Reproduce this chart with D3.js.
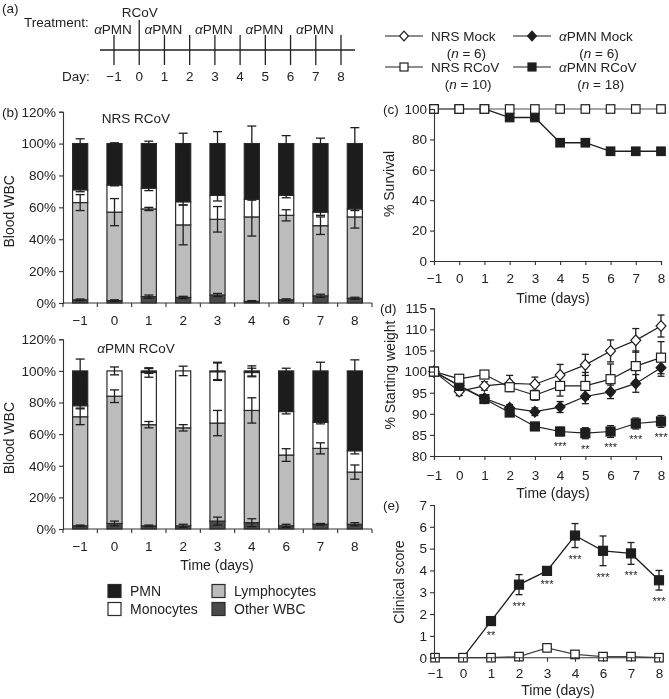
<!DOCTYPE html>
<html><head><meta charset="utf-8">
<script src="https://cdn.jsdelivr.net/npm/d3@7"></script>
<style>
body{margin:0;background:#fff;}
#chart{filter:grayscale(1);}
svg text{font-family:"Liberation Sans",Arial,Helvetica,sans-serif;fill:#222;}
svg text.sig{fill:#222;}
</style></head><body>
<svg id="chart" width="669" height="699"></svg>
<script>
// ---------------- DATA ----------------
const timelineDays = [-1,0,1,2,3,4,5,6,7,8];
const pmnTreatDays = [-1,1,3,5,7];
const rcovDay = 0;

const barDays = ["\u22121","0","1","2","3","4","6","7","8"];
const cellKeys = ["Other WBC","Lymphocytes","Monocytes","PMN"];
const yPctTicks = [0,20,40,60,80,100,120];

// NRS RCoV (% of blood WBC, segment sizes)
const nrsOther = [2,1.5,4,3.5,5,1,2,4.5,3];
const nrsLymph = [61,55.5,55,45.5,47.5,53,53,44,51];
const nrsMono  = [8,17,13,14.5,15,11,12.5,8.5,5];
const nrsPMN   = [29,26,28,36.5,32.5,35,32.5,43,41];
const nrsOtherErr = [0.5,0.5,1,0.7,1,0.5,0.6,1,0.6];
const nrsLymphErr = [5,8.5,1,12.5,8,12,3.5,5.5,7];
const nrsMonoErr  = [1.2,0.5,1.5,2,3.5,0.5,1.5,2,1];
const nrsPMNErr   = [3,0.5,1.5,6.5,7.5,11,5,3.4,10];

// aPMN RCoV
const pmnOther = [2,3.5,2,2,5,4,2,3,3];
const pmnLymph = [69,80.5,64,62,62,71,44.8,48,33];
const pmnMono  = [7,16,33,36,32.5,24,27.5,16.5,13.5];
const pmnPMN   = [22,0,1,0,0.5,1,25.7,32.5,50.5];
const pmnOtherErr = [0.5,1.5,0.5,1,2.5,2.5,1,0.5,1];
const pmnLymphErr = [5,4,2,2,8,8,4,3.5,4.5];
const pmnMonoErr  = [1.5,2.5,3,3,5.5,2.7,1.5,1,2];
const pmnPMNErr   = [7.5,0,1.5,0,5.5,3.2,1.7,5.5,7];

// Survival (%)
const dayNums = [-1,0,1,2,3,4,5,6,7,8];
const survNRS = [100,100,100,100,100,100,100,100,100,100];
const survPMN = [100,100,100,94.4,94.4,77.8,77.8,72.2,72.2,72.2];
const survTicks = [0,20,40,60,80,100];

// Weight (% starting)
const wNrsMock = [100,95.3,96.6,97.2,97.0,99.2,101.6,104.9,107.4,110.8];
const wNrsMockErr = [0,1.0,1.0,1.9,1.7,2.5,2.5,2.6,2.8,2.6];
const wNrsRcov = [100,98.3,99.3,96.3,94.4,96.6,96.6,98.2,101.3,103.3];
const wNrsRcovErr = [0,0.5,0.5,1,1.2,2.4,3.2,3.6,3.6,3.8];
const wPmnMock = [100,96.7,93.7,91.4,90.5,91.6,94.1,95.2,97.2,100.9];
const wPmnMockErr = [0,0.8,0.8,0.8,0.9,1.3,1.7,1.6,2.1,2.0];
const wPmnRcov = [100,96.6,93.5,90.3,87.0,85.8,85.4,85.8,87.7,88.2];
const wPmnRcovErr = [0,0.6,0.8,0.8,0.8,1.0,1.3,1.4,1.3,1.4];
const wSig = ["","","","","","***","**","***","***","***"];
const wTicks = [80,85,90,95,100,105,110,115];

// Clinical score
const cPmnRcov = [0,0,1.68,3.35,3.98,5.6,4.9,4.78,3.55];
const cPmnRcovErr = [0,0,0.12,0.46,0.1,0.55,0.68,0.5,0.45];
const cNrsRcov = [0,0,0,0.05,0.45,0.15,0.05,0.05,0];
const cNrsRcovErr = [0,0,0,0,0.08,0,0,0,0];
const cSig = ["","","**","***","***","***","***","***","***"];
const cTicks = [0,1,2,3,4,5,6,7];

// ---------------- DRAW ----------------
const svg = d3.select("#chart");
const INK = "#1e1e1e";
const colors = {"Other WBC":"#4a4a4a","Lymphocytes":"#bcbcbc","Monocytes":"#ffffff","PMN":"#1c1c1c"};

function rich(g, x, y, parts, anchor, size) {
  const t = g.append("text").attr("x",x).attr("y",y)
    .attr("text-anchor",anchor||"start").attr("dominant-baseline","central")
    .style("font-size",(size||13.5)+"px");
  parts.forEach(p=>{const s=t.append("tspan").text(p[0]); if(p[1]) s.style("font-style","italic");});
  return t;
}
function styleAxis(g, fs) {
  g.select(".domain").attr("stroke","#333").attr("stroke-width",1.1);
  g.selectAll(".tick line").attr("stroke","#333").attr("stroke-width",1.1);
  g.selectAll(".tick text").style("font-size",(fs||13.5)+"px").attr("fill","#222");
}
function marker(g, type, x, y, s) {
  const filled = type.endsWith("Filled");
  if (type.startsWith("square")) {
    g.append("rect").attr("x",x-s/2).attr("y",y-s/2).attr("width",s).attr("height",s)
      .attr("fill",filled?INK:"#fff").attr("stroke",INK).attr("stroke-width",1.2);
  } else {
    const h = s*0.6, w = s*0.55;
    g.append("path").attr("d",`M${x},${y-h}L${x+w},${y}L${x},${y+h}L${x-w},${y}Z`)
      .attr("fill",filled?INK:"#fff").attr("stroke",INK).attr("stroke-width",1.2);
  }
}
function errBar(g, x, y1, y2, cap) {
  g.append("line").attr("x1",x).attr("x2",x).attr("y1",y1).attr("y2",y2).attr("stroke",INK).attr("stroke-width",1.3);
  [y1,y2].forEach(yy=>g.append("line").attr("x1",x-cap/2).attr("x2",x+cap/2).attr("y1",yy).attr("y2",yy).attr("stroke",INK).attr("stroke-width",1.3));
}

// ----- Panel (a) timeline -----
const ga = svg.append("g");
ga.append("text").attr("x",2).attr("y",8).attr("dominant-baseline","central").style("font-size","13.5px").text("(a)");
ga.append("text").attr("x",24).attr("y",22).attr("dominant-baseline","central").style("font-size","13.5px").text("Treatment:");
ga.append("text").attr("x",62).attr("y",76).attr("dominant-baseline","central").style("font-size","13.5px").text("Day:");
const xt = d3.scaleLinear().domain([-1,8]).range([114,341]);
ga.append("line").attr("x1",100).attr("x2",355).attr("y1",50).attr("y2",50).attr("stroke","#222").attr("stroke-width",1.3);
timelineDays.forEach(d=>{
  ga.append("line").attr("x1",xt(d)).attr("x2",xt(d)).attr("y1",d===rcovDay?20:35).attr("y2",65).attr("stroke","#222").attr("stroke-width",1.3);
  ga.append("text").attr("x",xt(d)).attr("y",76).attr("text-anchor","middle").attr("dominant-baseline","central").style("font-size","13.5px").text(d3.format("d")(d));
});
ga.append("text").attr("x",xt(rcovDay)+0.5).attr("y",12).attr("text-anchor","middle").attr("dominant-baseline","central").style("font-size","13.5px").text("RCoV");
pmnTreatDays.forEach(d=>rich(ga, xt(d)-1, 28.5, [["\u03b1",true],["PMN",false]], "middle"));

// ----- Top-right legend -----
const gl = svg.append("g");
const legItems = [
  {parts:[["NRS Mock",false]], n:"6", type:"diamondOpen", x:385, y:36},
  {parts:[["NRS RCoV",false]], n:"10", type:"squareOpen", x:385, y:67},
  {parts:[["\u03b1",true],["PMN Mock",false]], n:"6", type:"diamondFilled", x:513, y:36},
  {parts:[["\u03b1",true],["PMN RCoV",false]], n:"18", type:"squareFilled", x:513, y:67}
];
legItems.forEach(it=>{
  gl.append("line").attr("x1",it.x).attr("x2",it.x+38).attr("y1",it.y).attr("y2",it.y).attr("stroke",INK).attr("stroke-width",1.2);
  marker(gl, it.type, it.x+19, it.y, 8);
  const t = rich(gl, it.x+46, it.y, it.parts, "start", 13.5);
  const bb = t.node().getBBox();
  rich(gl, bb.x+bb.width/2+3, it.y+16.5, [["(",false],["n",true],[" = "+it.n+")",false]], "middle", 13.5);
});

// ----- Panel (b) stacked bars -----
const barX = d3.scaleBand().domain(barDays).range([63,372]).paddingInner(0.56).paddingOuter(0.28);
function barPanel(segs, errs, y0, y120, title, titleY) {
  const g = svg.append("g");
  const y = d3.scaleLinear().domain([0,120]).range([y0,y120]);
  const rows = barDays.map((d,i)=>{const r={day:d}; cellKeys.forEach((k,j)=>r[k]=segs[j][i]); return r;});
  const stacked = d3.stack().keys(cellKeys)(rows);
  stacked.forEach(layer=>{
    g.selectAll(null).data(layer).join("rect")
      .attr("x",d=>barX(d.data.day)).attr("width",barX.bandwidth())
      .attr("y",d=>y(d[1])).attr("height",d=>Math.max(0,y(d[0])-y(d[1])))
      .attr("fill",colors[layer.key]).attr("stroke","#2a2a2a").attr("stroke-width",1.2);
  });
  stacked.forEach((layer,j)=>{
    layer.forEach((d,i)=>{
      const e = errs[j][i];
      if (e>0 && d[1]-d[0]>0) errBar(g, barX(d.data.day)+barX.bandwidth()/2, y(d[1]+e), y(d[1]-e), 9);
    });
  });
  const ya = g.append("g").attr("transform","translate(63,0)")
    .call(d3.axisLeft(y).tickValues(yPctTicks).tickFormat(d=>d+"%").tickSize(4).tickPadding(3));
  styleAxis(ya);
  g.append("line").attr("x1",63).attr("x2",372).attr("y1",y0).attr("y2",y0).attr("stroke","#333").attr("stroke-width",1.1);
  d3.range(barDays.length+1).forEach(i=>{
    const xx = 63+i*barX.step();
    g.append("line").attr("x1",xx).attr("x2",xx).attr("y1",y0).attr("y2",y0+4).attr("stroke","#333").attr("stroke-width",1.1);
  });
  barDays.forEach(d=>g.append("text").attr("x",barX(d)+barX.bandwidth()/2).attr("y",y0+17)
    .attr("text-anchor","middle").attr("dominant-baseline","central").style("font-size","13.5px").text(d));
  rich(g, 136, titleY, title, "middle", 13.5);
  g.append("text").attr("transform",`translate(9,${(y0+y120)/2+4}) rotate(-90)`).attr("text-anchor","middle")
    .attr("dominant-baseline","central").style("font-size","14px").text("Blood WBC");
  return g;
}
barPanel([nrsOther,nrsLymph,nrsMono,nrsPMN],[nrsOtherErr,nrsLymphErr,nrsMonoErr,nrsPMNErr],303,111.7,[["NRS RCoV",false]],118);
barPanel([pmnOther,pmnLymph,pmnMono,pmnPMN],[pmnOtherErr,pmnLymphErr,pmnMonoErr,pmnPMNErr],529,339.3,[["\u03b1",true],["PMN RCoV",false]],348);
svg.append("text").attr("x",2).attr("y",112).attr("dominant-baseline","central").style("font-size","13.5px").text("(b)");
svg.append("text").attr("x",217).attr("y",565).attr("text-anchor","middle").attr("dominant-baseline","central").style("font-size","14px").text("Time (days)");

// bar legend
const lgB = svg.append("g");
const barLeg = [["PMN",108,591],["Lymphocytes",212,591],["Monocytes",108,609],["Other WBC",212,609]];
barLeg.forEach(([k,x,yy])=>{
  lgB.append("rect").attr("x",x).attr("y",yy-6.5).attr("width",13).attr("height",13).attr("fill",colors[k]).attr("stroke","#2a2a2a").attr("stroke-width",1.2);
  lgB.append("text").attr("x",x+22).attr("y",yy).attr("dominant-baseline","central").style("font-size","14px").text(k);
});

// ----- Panel (c) survival -----
const xLin = d3.scaleLinear().domain([-1,8]).range([434,661]);
(function(){
  const g = svg.append("g");
  const y = d3.scaleLinear().domain([0,100]).range([261,109]);
  const line = d3.line().x((d,i)=>xLin(dayNums[i])).y(d=>y(d));
  g.append("path").attr("d",line(survPMN)).attr("fill","none").attr("stroke",INK).attr("stroke-width",1.3);
  g.append("path").attr("d",line(survNRS)).attr("fill","none").attr("stroke","#8a8a8a").attr("stroke-width",1.6);
  survPMN.forEach((v,i)=>marker(g,"squareFilled",xLin(dayNums[i]),y(v),8.5));
  survNRS.forEach((v,i)=>marker(g,"squareOpen",xLin(dayNums[i]),y(v),8.5));
  const ya = g.append("g").attr("transform","translate(434,0)").call(d3.axisLeft(y).tickValues(survTicks).tickSize(4).tickPadding(3));
  styleAxis(ya);
  const xa = g.append("g").attr("transform","translate(0,261)").call(d3.axisBottom(xLin).tickValues(dayNums).tickSize(4).tickPadding(8));
  styleAxis(xa);
  g.append("text").attr("x",383).attr("y",109).attr("dominant-baseline","central").style("font-size","13.5px").text("(c)");
  g.append("text").attr("transform","translate(389,184) rotate(-90)").attr("text-anchor","middle").attr("dominant-baseline","central").style("font-size","14px").text("% Survival");
  g.append("text").attr("x",553).attr("y",298).attr("text-anchor","middle").attr("dominant-baseline","central").style("font-size","14px").text("Time (days)");
})();

// ----- Panel (d) weight -----
(function(){
  const g = svg.append("g");
  const y = d3.scaleLinear().domain([80,115]).range([456,308.3]);
  const line = d3.line().x((d,i)=>xLin(dayNums[i])).y(d=>y(d));
  const series = [
    [wPmnMock,wPmnMockErr,"diamondFilled"],
    [wNrsMock,wNrsMockErr,"diamondOpen"],
    [wPmnRcov,wPmnRcovErr,"squareFilled"],
    [wNrsRcov,wNrsRcovErr,"squareOpen"]
  ];
  series.forEach(s=>g.append("path").attr("d",line(s[0])).attr("fill","none").attr("stroke",INK).attr("stroke-width",1.2));
  series.forEach(s=>s[0].forEach((v,i)=>{ if(s[1][i]>0) errBar(g,xLin(dayNums[i]),y(v+s[1][i]),y(v-s[1][i]),7); }));
  series.forEach(s=>s[0].forEach((v,i)=>marker(g,s[2],xLin(dayNums[i]),y(v),9)));
  wSig.forEach((s,i)=>{ if(s) g.append("text").attr("class","sig").attr("x",xLin(dayNums[i])).attr("y",y(wPmnRcov[i]-wPmnRcovErr[i])+14)
      .attr("text-anchor","middle").style("font-size","11px").text(s); });
  const ya = g.append("g").attr("transform","translate(434,0)").call(d3.axisLeft(y).tickValues(wTicks).tickSize(4).tickPadding(3));
  styleAxis(ya);
  const xa = g.append("g").attr("transform","translate(0,456)").call(d3.axisBottom(xLin).tickValues(dayNums).tickSize(4).tickPadding(10));
  styleAxis(xa);
  g.append("text").attr("x",380).attr("y",308).attr("dominant-baseline","central").style("font-size","13.5px").text("(d)");
  g.append("text").attr("transform","translate(390,375) rotate(-90)").attr("text-anchor","middle").attr("dominant-baseline","central").style("font-size","14px").text("% Starting weight");
  g.append("text").attr("x",553).attr("y",493).attr("text-anchor","middle").attr("dominant-baseline","central").style("font-size","14px").text("Time (days)");
})();

// ----- Panel (e) clinical score -----
(function(){
  const g = svg.append("g");
  const x = d3.scalePoint().domain(barDays).range([435,659]);
  const y = d3.scaleLinear().domain([0,7]).range([657.7,505]);
  const line = d3.line().x((d,i)=>x(barDays[i])).y(d=>y(d));
  g.append("path").attr("d",line(cNrsRcov)).attr("fill","none").attr("stroke","#444").attr("stroke-width",1.2);
  g.append("path").attr("d",line(cPmnRcov)).attr("fill","none").attr("stroke",INK).attr("stroke-width",1.3);
  cPmnRcov.forEach((v,i)=>{ if(cPmnRcovErr[i]>0) errBar(g,x(barDays[i]),y(v+cPmnRcovErr[i]),y(v-cPmnRcovErr[i]),7); });
  cNrsRcov.forEach((v,i)=>{ if(cNrsRcovErr[i]>0) errBar(g,x(barDays[i]),y(v+cNrsRcovErr[i]),y(v-cNrsRcovErr[i]),7); });
  cNrsRcov.forEach((v,i)=>marker(g,"squareOpen",x(barDays[i]),y(v),8.5));
  cPmnRcov.forEach((v,i)=>{ if(v>0) marker(g,"squareFilled",x(barDays[i]),y(v),9); });
  cSig.forEach((s,i)=>{ if(s) g.append("text").attr("class","sig").attr("x",x(barDays[i])).attr("y",y(cPmnRcov[i]-cPmnRcovErr[i])+15)
      .attr("text-anchor","middle").style("font-size","11px").text(s); });
  const ya = g.append("g").attr("transform","translate(434,0)").call(d3.axisLeft(y).tickValues(cTicks).tickFormat(d3.format("d")).tickSize(4).tickPadding(3));
  styleAxis(ya);
  const xa = g.append("g").attr("transform","translate(0,657.7)").call(d3.axisBottom(x).tickSize(4).tickPadding(7));
  styleAxis(xa);
  xa.select(".domain").attr("d","M434,0H661");
  g.append("text").attr("x",383).attr("y",505).attr("dominant-baseline","central").style("font-size","13.5px").text("(e)");
  g.append("text").attr("transform","translate(399,582) rotate(-90)").attr("text-anchor","middle").attr("dominant-baseline","central").style("font-size","14px").text("Clinical score");
  g.append("text").attr("x",558).attr("y",690).attr("text-anchor","middle").attr("dominant-baseline","central").style("font-size","14px").text("Time (days)");
})();
</script>
</body></html>
